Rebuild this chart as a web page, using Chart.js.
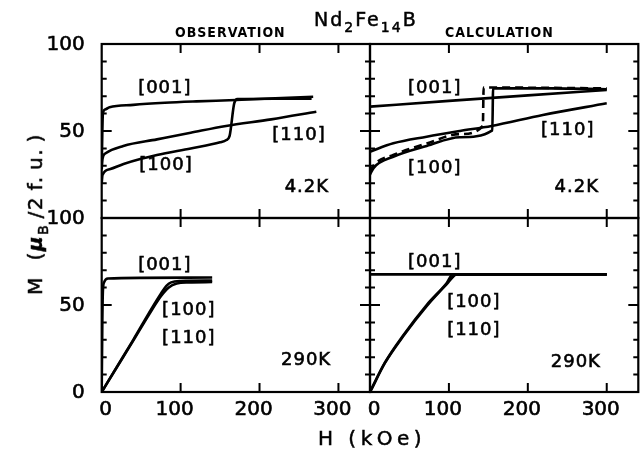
<!DOCTYPE html>
<html>
<head>
<meta charset="utf-8">
<script src="https://cdn.jsdelivr.net/npm/chart.js@4/dist/chart.umd.min.js"></script>
<style>
  body { margin: 0; background: #fff; }
  #wrap { position: relative; width: 643px; height: 452px; overflow: hidden; font-family: "DejaVu Sans", sans-serif; color: #000; }
  #wrap canvas { position: absolute; left: 0; top: 0; }
  .t { position: absolute; white-space: nowrap; line-height: 1; -webkit-text-stroke: 0.5px #000; }
  .lo { position: relative; top: 6px; font-size: 14px; }
  .cap { font-family: "DejaVu Sans Condensed", "DejaVu Sans", sans-serif; font-size: 14px; font-weight: bold; letter-spacing: 1px; -webkit-text-stroke: 0; }
</style>
</head>
<body>
<div id="wrap">
  <canvas id="tl" width="643" height="452"></canvas>
  <canvas id="tr" width="643" height="452"></canvas>
  <canvas id="bl" width="643" height="452"></canvas>
  <canvas id="br" width="643" height="452"></canvas>
  <div class="t" style="left:314px;top:10px;font-size:19px;letter-spacing:2px;">Nd<span class="lo">2</span>Fe<span class="lo">14</span>B</div>
  <div class="t cap" style="left:175px;top:25px;">OBSERVATION</div>
  <div class="t cap" style="left:445px;top:25px;">CALCULATION</div>
  <div class="t" style="left:372px;top:438px;font-size:20px;letter-spacing:4.5px;transform:translate(-50%,-50%);">H (kOe)</div>
  <div class="t" style="left:35px;top:214px;font-size:20px;letter-spacing:1.5px;transform:translate(-50%,-50%) rotate(-90deg);">M&nbsp; (<b><i>&mu;</i></b><span class="lo">B</span>&thinsp;/2&thinsp;f.&thinsp;u.&thinsp;)</div>
</div>
<script>
// field axis (kOe) and magnetisation axis (muB / 2 f.u.)
const hTicks = [0, 100, 200, 300];
const mTicksTop = [100, 50];
const mTicksBottom = [100, 50, 0];

// observation, 4.2 K  -- [H, M]
const obs4K_001 = [[0, 30], [1.5, 60], [4, 62.3], [10, 63.6], [40, 65], [80, 66.2], [120, 67], [170, 67.8], [220, 68.8], [268, 69.7]];
const obs4K_100 = [[0, 20], [1, 24.7], [10, 28], [27.7, 31], [50, 34], [70, 36.2], [112.8, 40], [150, 43.5], [158, 44.8], [162, 47], [168, 66], [172, 68.3], [220, 68.5], [266, 68.6]];
const obs4K_110 = [[0, 28], [1, 34], [5, 37.2], [27.4, 41.4], [70, 45.2], [112.8, 49], [157.5, 52.9], [214.8, 56.7], [272, 61.1]];

// calculation, 4.2 K
const calc4K_001 = [[0, 64], [100, 67.3], [200, 70.5], [300, 73.6]];
const calc4K_110 = [[0, 38.1], [29.5, 42.9], [71.8, 46.7], [114, 50], [154, 52.9], [219, 59.2], [300, 65.9]];
const calc4K_100 = [[0, 25], [5, 29], [29.5, 35.2], [71.8, 41.4], [114, 46.4], [155, 50.4], [156, 74.5], [230, 74.5], [300, 74]];
const calc4K_100b = [[0, 26.6], [5, 30.5], [29.5, 36.2], [71.8, 42.8], [114, 48.2], [143, 52.9], [144, 75], [300, 74.5]];

// observation, 290 K
const obs290_001 = [[0, 0], [0.8, 40], [1.5, 58], [3, 63], [8, 65.2], [50, 65.6], [140, 65.8]];
const obs290_100 = [[0, 0], [20, 15], [40, 30], [60, 45.5], [75, 56.5], [82, 61], [88, 63], [100, 63.8], [140, 64]];
const obs290_110 = [[0, 0], [20, 14.8], [40, 29.5], [60, 44.5], [75, 55], [85, 60], [95, 62.3], [110, 63], [140, 63.2]];

// calculation, 290 K
const calc290_001 = [[0, 67.6], [300, 67.6]];
const calc290_100 = [[0, 0], [19, 17], [42, 32.5], [71.8, 50], [97, 62.5], [105, 67.6], [300, 67.6]];
const calc290_110 = [[0, 0], [19, 16.7], [42, 32], [71.8, 49.3], [97, 61.8], [110, 67.6], [300, 67.6]];

const framePlugin = {
  id: 'frame',
  afterDraw(chart, args, o) {
    const ctx = chart.ctx;
    const a = chart.chartArea;
    const x = chart.scales.x, y = chart.scales.y;
    ctx.save();
    ctx.strokeStyle = '#000';
    ctx.fillStyle = '#000';
    ctx.lineWidth = 2.2;
    ctx.strokeRect(a.left, a.top, a.right - a.left, a.bottom - a.top);
    ctx.lineWidth = 2;
    ctx.beginPath();
    for (let v = 10; v < 100; v += 10) {
      const py = y.getPixelForValue(v);
      const len = v === 50 ? 10 : 5;
      ctx.moveTo(a.left, py); ctx.lineTo(a.left + len, py);
      ctx.moveTo(a.right, py); ctx.lineTo(a.right - len, py);
    }
    hTicks.slice(1).forEach(h => {
      const px = x.getPixelForValue(h);
      ctx.moveTo(px, a.top); ctx.lineTo(px, a.top + 9);
      ctx.moveTo(px, a.bottom); ctx.lineTo(px, a.bottom - 9);
    });
    ctx.stroke();

    const text = (s, px, py) => { ctx.fillText(s, px, py); ctx.strokeText(s, px, py); };
    ctx.lineWidth = 0.6;
    ctx.font = '20px "DejaVu Sans"';
    if (o.yLabels) {
      ctx.textAlign = 'right';
      ctx.textBaseline = 'middle';
      o.yLabels.forEach(v => text(String(v), a.left - 17, y.getPixelForValue(v) + 1));
    }
    if (o.xLabels) {
      ctx.textAlign = 'center';
      ctx.textBaseline = 'middle';
      hTicks.forEach(h => text(String(h), x.getPixelForValue(h) + (h === 0 ? 4 : -6), 410));
    }
    ctx.font = '18px "DejaVu Sans"';
    ctx.letterSpacing = '1px';
    ctx.textAlign = 'center';
    ctx.textBaseline = 'middle';
    o.notes.forEach(n => text(n[0], x.getPixelForValue(n[1]), y.getPixelForValue(n[2])));
    ctx.restore();
  }
};

function panel(id, curves, pad, frame) {
  return new Chart(document.getElementById(id), {
    type: 'line',
    data: {
      datasets: curves.map(c => ({
        data: c.pts.map(p => ({ x: p[0], y: p[1] })),
        borderColor: '#000',
        borderWidth: 2.6,
        borderDash: c.dash || [],
        pointRadius: 0,
        cubicInterpolationMode: 'monotone',
        fill: false
      }))
    },
    options: {
      responsive: false,
      animation: false,
      events: [],
      layout: { padding: pad },
      plugins: { legend: { display: false }, tooltip: { enabled: false }, frame: frame },
      scales: {
        x: { type: 'linear', min: 0, max: 340, display: false },
        y: { type: 'linear', min: 0, max: 100, display: false }
      }
    },
    plugins: [framePlugin]
  });
}

const padTL = { left: 101.7, right: 273, top: 44, bottom: 234 };
const padTR = { left: 370, right: 4.7, top: 44, bottom: 234 };
const padBL = { left: 101.7, right: 273, top: 218, bottom: 60 };
const padBR = { left: 370, right: 4.7, top: 218, bottom: 60 };

panel('tl', [{ pts: obs4K_001 }, { pts: obs4K_100 }, { pts: obs4K_110 }], padTL, {
  yLabels: mTicksTop,
  notes: [['[001]', 80, 74.7], ['[110]', 250, 47.7], ['[100]', 81.5, 30.5], ['4.2K', 260, 17.8]]
});
panel('tr', [{ pts: calc4K_001 }, { pts: calc4K_110 }, { pts: calc4K_100 }, { pts: calc4K_100b, dash: [8, 5] }], padTR, {
  notes: [['[001]', 82, 74.7], ['[110]', 250.6, 50.6], ['[100]', 82, 28.7], ['4.2K', 262, 17.8]]
});
panel('bl', [{ pts: obs290_001 }, { pts: obs290_100 }, { pts: obs290_110 }], padBL, {
  yLabels: mTicksBottom, xLabels: true,
  notes: [['[001]', 80, 73], ['[100]', 110.4, 47.1], ['[110]', 110.4, 31], ['290K', 259, 18.4]]
});
panel('br', [{ pts: calc290_001 }, { pts: calc290_100 }, { pts: calc290_110 }], padBR, {
  xLabels: true,
  notes: [['[001]', 82, 74.7], ['[100]', 131.6, 51.7], ['[110]', 131.6, 35.6], ['290K', 260.8, 17.2]]
});
</script>
</body>
</html>
